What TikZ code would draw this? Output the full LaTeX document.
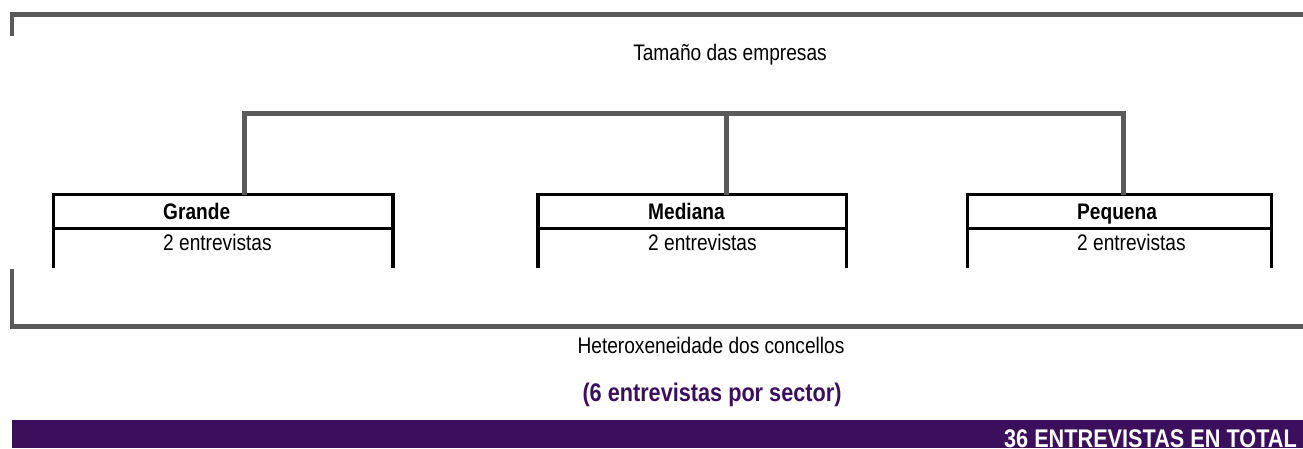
\documentclass[tikz,border=0pt]{standalone}
\usepackage{fontspec}
\setmainfont{Liberation Sans}[FakeStretch=0.85]
\definecolor{frame}{HTML}{5A5A5A}
\definecolor{plum}{HTML}{3B0F5B}
\begin{document}
\begin{tikzpicture}[x=1pt,y=-1pt,
  frameline/.style={draw=frame,line width=4.5pt,line join=miter},
  boxline/.style={draw=black,line width=3.3pt},
  cell/.style={inner sep=0pt,minimum width=#1,minimum height=73.5pt,anchor=north west},
  label/.style={inner sep=0pt,anchor=base west,font=\fontsize{22.5}{26}\selectfont},
  note/.style={inner sep=0pt,anchor=base,font=\fontsize{22.5}{26}\selectfont}]
\useasboundingbox (0,0) rectangle (1303,448);
% outer frame (top and bottom)
\coordinate (tl) at (12,36);
\coordinate (tr) at (1303,14.5);
\draw[frameline] (tl) |- (tr);
\coordinate (bl) at (12,269);
\coordinate (br) at (1303,326.5);
\draw[frameline] (bl) |- (br);
\node[note] (title) at (730,60) {Tamaño das empresas};
% boxes
\node[cell=339pt] (g) at (53.5,194.5) {};
\node[cell=308pt] (m) at (538,194.5) {};
\node[cell=304pt] (p) at (967.3,194.5) {};
\foreach \b in {g,m,p}{
  \draw[boxline,line join=miter] (\b.south west) -- (\b.north west) -- (\b.north east) -- (\b.south east);
  \draw[boxline] ([yshift=-33.8pt]\b.north west) -- ([yshift=-33.8pt]\b.north east);
}
\node[label,font=\bfseries\fontsize{22.5}{26}\selectfont] (gt) at (163,219) {Grande};
\node[label] (gs) at (163,250) {2 entrevistas};
\node[label,font=\bfseries\fontsize{22.5}{26}\selectfont] (mt) at (648,219) {Mediana};
\node[label] (ms) at (648,250) {2 entrevistas};
\node[label,font=\bfseries\fontsize{22.5}{26}\selectfont] (pt) at (1077,219) {Pequena};
\node[label] (ps) at (1077,250) {2 entrevistas};
% connector
\coordinate (hl) at (244.5,113.5);
\coordinate (hm) at (726.5,113.5);
\coordinate (hr) at (1123.5,113.5);
\draw[frameline] (g.north -| hl) -- (hl) -- (hr) -- (p.north -| hr);
\draw[frameline] (hm) -- (m.north -| hm);
% footer texts
\node[note] (het) at (711,353) {Heteroxeneidade dos concellos};
\node[note,text=plum,font=\bfseries\fontsize{25.5}{30}\selectfont] (per) at (712,401) {(6 entrevistas por sector)};
\fill[plum] (12,420) rectangle (1303,448);
\node[inner sep=0pt,anchor=base east,text=white,font=\bfseries\fontsize{25.5}{30}\selectfont] (tot) at (1297,447.5) {36 ENTREVISTAS EN TOTAL};
\end{tikzpicture}
\end{document}
